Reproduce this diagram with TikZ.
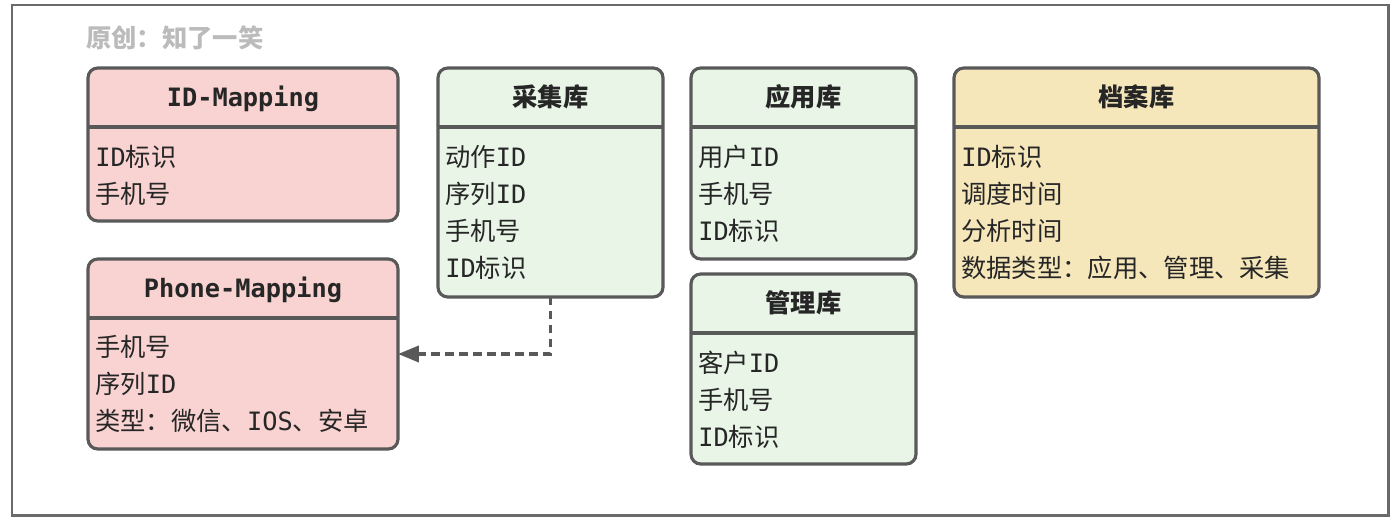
\documentclass[tikz,border=0pt]{standalone}
\usepackage{fontspec}
\setmainfont{DejaVu Sans Mono}
\newfontfamily\cjkfont{Noto Sans CJK SC}
\newcommand{\zh}[1]{{\cjkfont #1}}
\usepackage{tikz}
\usetikzlibrary{arrows.meta, positioning, calc}
\definecolor{tline}{HTML}{595959}
\definecolor{tframe}{HTML}{6A6A6A}
\definecolor{tmark}{HTML}{BBBBBB}
\definecolor{tred}{HTML}{F9D3D1}
\definecolor{tgreen}{HTML}{E8F5E7}
\definecolor{tyellow}{HTML}{F6E7BB}
\tikzset{
  tbox/.style={draw=tline, line width=1.8pt, rounded corners=5.5pt,
               inner sep=0pt, outer sep=0pt},
  redtab/.style={tbox, fill=tred},
  greentab/.style={tbox, fill=tgreen},
  yellowtab/.style={tbox, fill=tyellow},
  thead/.style={font=\fontsize{14.4}{17}\selectfont\bfseries, text=black!85,
                anchor=base, inner sep=0pt},
  trow/.style={font=\fontsize{14.4}{17}\selectfont, text=black!85,
               anchor=base west, inner sep=0pt},
  tsep/.style={draw=tline, line width=1.8pt},
  link/.style={-{Triangle[length=0.42cm,width=0.32cm]}, line width=2.2pt,
               dash pattern=on 0.17cm off 0.11cm, tline},
}

\begin{document}
\begin{tikzpicture}[x=0.02cm, y=-0.02cm]
  \useasboundingbox (0,0) rectangle (1400,521);
  % frame
  \draw[tframe, line width=1.7pt] (12,5) rectangle (1388,515);
  \node[font=\fontsize{14.4}{17}\selectfont, text=tmark, anchor=base west, inner sep=0pt]
    (author) at (86,47) {\zh{\bfseries 原创：知了一笑}};

  % ID-Mapping
  \node[redtab, minimum width=6.2cm, minimum height=3.06cm] (idm) at (243,144.5) {};
  \node[thead] (idm-t) at ($(idm.north)+(0,38)$) {ID-Mapping};
  \draw[tsep] ($(idm.north west)+(0,59)$) -- ($(idm.north east)+(0,59)$);
  \foreach \r [count=\i from 0] in {ID\zh{标识}, \zh{手机号}}
    \node[trow] (idm-\i) at ($(idm.north west)+(7,98+37*\i)$) {\r};

  % Phone-Mapping
  \node[redtab, minimum width=6.2cm, minimum height=3.8cm] (pm) at (243,354) {};
  \node[thead] (pm-t) at ($(pm.north)+(0,38)$) {Phone-Mapping};
  \draw[tsep] ($(pm.north west)+(0,59)$) -- ($(pm.north east)+(0,59)$);
  \foreach \r [count=\i from 0] in {\zh{手机号}, \zh{序列}ID, \zh{类型：微信、}IOS\zh{、安卓}}
    \node[trow] (pm-\i) at ($(pm.north west)+(7,97+37*\i)$) {\r};

  % caiji
  \node[greentab, minimum width=4.5cm, minimum height=4.58cm] (cj) at (550.5,182.5) {};
  \node[thead] (cj-t) at ($(cj.north)+(0,38)$) {\zh{\bfseries 采集库}};
  \draw[tsep] ($(cj.north west)+(0,59)$) -- ($(cj.north east)+(0,59)$);
  \foreach \r [count=\i from 0] in {\zh{动作}ID, \zh{序列}ID, \zh{手机号}, ID\zh{标识}}
    \node[trow] (cj-\i) at ($(cj.north west)+(7,98+37*\i)$) {\r};

  % yingyong
  \node[greentab, minimum width=4.5cm, minimum height=3.82cm] (yy) at (803.5,163.5) {};
  \node[thead] (yy-t) at ($(yy.north)+(0,38)$) {\zh{\bfseries 应用库}};
  \draw[tsep] ($(yy.north west)+(0,59)$) -- ($(yy.north east)+(0,59)$);
  \foreach \r [count=\i from 0] in {\zh{用户}ID, \zh{手机号}, ID\zh{标识}}
    \node[trow] (yy-\i) at ($(yy.north west)+(7,98+37*\i)$) {\r};

  % guanli
  \node[greentab, minimum width=4.5cm, minimum height=3.8cm] (gl) at (803.5,369) {};
  \node[thead] (gl-t) at ($(gl.north)+(0,38)$) {\zh{\bfseries 管理库}};
  \draw[tsep] ($(gl.north west)+(0,59)$) -- ($(gl.north east)+(0,59)$);
  \foreach \r [count=\i from 0] in {\zh{客户}ID, \zh{手机号}, ID\zh{标识}}
    \node[trow] (gl-\i) at ($(gl.north west)+(7,98+37*\i)$) {\r};

  % dangan
  \node[yellowtab, minimum width=7.3cm, minimum height=4.58cm] (da) at (1136.5,182.5) {};
  \node[thead] (da-t) at ($(da.north)+(0,38)$) {\zh{\bfseries 档案库}};
  \draw[tsep] ($(da.north west)+(0,59)$) -- ($(da.north east)+(0,59)$);
  \foreach \r [count=\i from 0] in {ID\zh{标识}, \zh{调度时间}, \zh{分析时间}, \zh{数据类型：应用、管理、采集}}
    \node[trow] (da-\i) at ($(da.north west)+(7,98+37*\i)$) {\r};

  % link
  \draw[link] (cj.south) |- (pm.east);
\end{tikzpicture}
\end{document}
